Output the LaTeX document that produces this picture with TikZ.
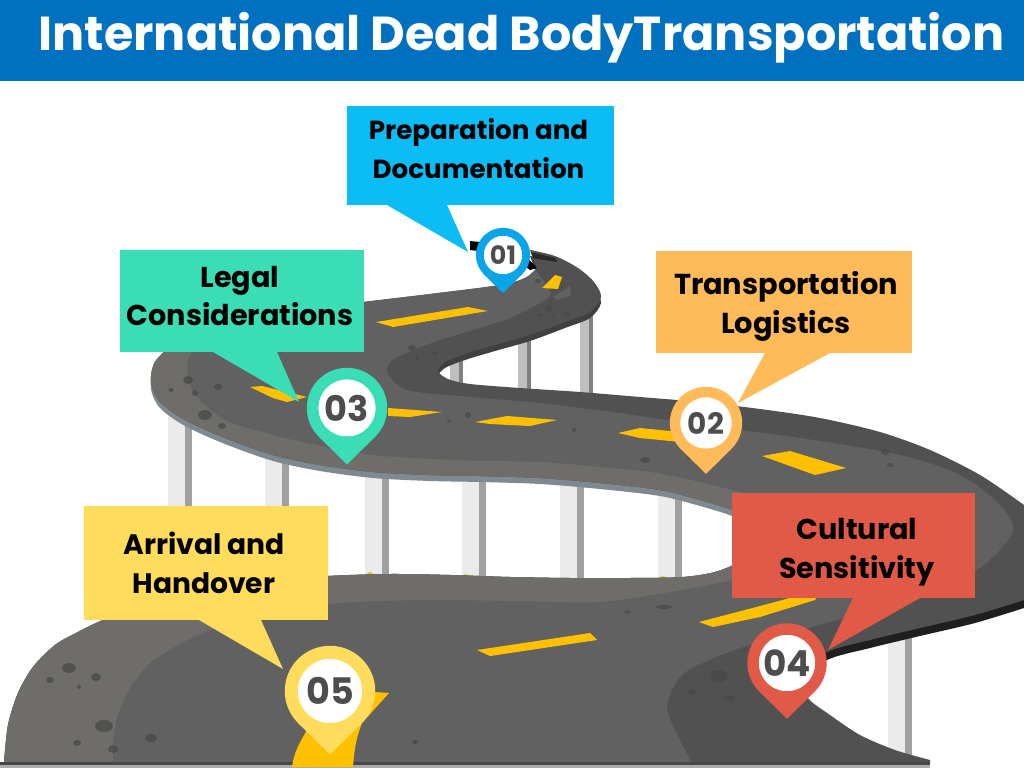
\documentclass[tikz,border=0pt]{standalone}
\usepackage{fontspec}
\setmainfont{Poppins}
\usetikzlibrary{calc, positioning}

\definecolor{bandblue}{HTML}{0070C0}
\definecolor{prepblue}{HTML}{0BBCF5}
\definecolor{pinblue}{HTML}{0AA5E8}
\definecolor{legalgreen}{HTML}{3BDDB4}
\definecolor{logisticsorange}{HTML}{FFBA5A}
\definecolor{culturalred}{HTML}{E15A48}
\definecolor{arrivalyellow}{HTML}{FFDC5C}
\definecolor{roaddash}{HTML}{FFC000}
\definecolor{roaddark}{HTML}{515151}
\definecolor{roadlane}{HTML}{616161}
\definecolor{roadouter}{HTML}{6F6D6A}
\definecolor{roadside}{HTML}{7F8A90}
\definecolor{spotgrey}{HTML}{484848}
\definecolor{digitgrey}{HTML}{4D4D4D}

\tikzset{
  roadspot/.style={fill=spotgrey, opacity=0.75},
  dashpiece/.style={fill=roaddash},
  callbox/.style={fill=#1, inner sep=0, outer sep=0},
  calltext/.style={align=center, font=\fontsize{#1}{27.7}\selectfont\bfseries, text=black},
  pinface/.style={circle, fill=white, inner sep=0, text=digitgrey}
}

% surface of the road, one closed outline
\newcommand{\roadoutline}{
  plot[smooth] coordinates {(4,763) (8,725) (18,693) (33,667) (55,645) (78,632) (103,620) (150,603) (200,590) (265,581) (328,576) (390,574) (450,575) (510,577) (570,578) (630,578) (683,577) (715,572) (740,562) (757,551) (765,537) (755,522) (732,510) (700,500) (660,490) (600,483) (540,478) (480,476) (430,475) (373,472) (320,465) (273,455) (225,438) (185,420) (160,402) (151,383) (155,362) (175,343) (205,328) (250,318) (300,310) (363,302) (430,294) (500,285) (525,278) (537,268)}
  -- plot[smooth] coordinates {(530,250) (555,256) (578,268) (594,282) (601,297) (590,312) (565,322) (530,335) (495,345) (465,354) (445,362) (438,371) (448,379) (470,384) (520,388) (580,392) (640,397) (700,402) (760,409) (820,418) (880,432) (930,450) (980,475) (1024,505)}
  -- plot[smooth] coordinates {(1024,600) (975,615) (920,628) (870,640) (827,652) (800,675) (808,698) (830,715) (860,735) (895,750) (930,760)}
  -- (930,763) -- cycle
}

\begin{document}
\begin{tikzpicture}[x=0.025cm, y=-0.025cm]
  \useasboundingbox (0,0) rectangle (1024,768);
  \fill[white] (0,0) rectangle (1024,768);

  % Pillars under the road
  \foreach \x/\ytop/\ybot in {168/400/510, 265/440/510, 365/460/576, 462/470/578, 560/470/580, 658/480/580, 888/620/757} {
    \fill[black!8] (\x,\ytop) rectangle (\x+17,\ybot);
    \fill[black!37] (\x+17,\ytop) rectangle (\x+24,\ybot);
  }
  \foreach \x/\ytop/\ybot in {450/360/385, 518/340/392, 580/310/396} {
    \fill[black!25] (\x,\ytop) rectangle (\x+13,\ybot);
    \fill[black!50] (\x+9,\ytop) rectangle (\x+13,\ybot);
  }
  \foreach \x/\y in {370/574, 466/576, 663/578} {
    \fill[yellow!85!black] (\x,\y) ellipse (3 and 2);
  }

  % Thickness of the road
  \foreach \col/\ax/\ay/\bx/\by/\dy in {
      black!75/400/250/620/380/6,
      roadside/0/380/760/560/6,
      black!88/760/560/1024/700/8} {
    \begin{scope}
      \clip (\ax,\ay) rectangle (\bx,\by);
      \fill[\col, shift={(0,\dy)}] \roadoutline;
    \end{scope}
  }
  \fill[black] (470,241) -- (490,243) -- (520,250) -- (537,268) -- (530,270) -- (510,255) -- (470,250) -- cycle;

  % Road surface
  \fill[roaddark] \roadoutline;
  \begin{scope}
    \clip \roadoutline;
    \fill[roadlane] (0,200) -- (530,200)
      -- plot[smooth] coordinates {(535,270) (550,290) (545,300) (510,318) (473,330) (440,340) (413,350) (393,360) (387,372) (407,390) (470,397) (540,403) (620,413) (700,425) (800,438) (900,455) (960,475) (1000,505) (1013,530) (993,557) (960,580) (900,600) (837,620) (790,633) (743,647) (705,662) (680,677) (667,707) (680,740) (695,768)}
      -- (0,768) -- cycle;
    \fill[roadouter] (0,290) -- (363,290)
      -- plot[smooth] coordinates {(363,302) (290,318) (235,330) (205,342) (190,355) (187,370) (195,395) (225,420) (265,433) (307,443) (373,455) (455,460) (540,462) (600,467) (650,472) (700,482) (750,495) (800,510) (815,535) (800,560) (732,580) (670,592) (600,602) (520,601) (440,600) (380,601) (330,604) (270,615) (210,630) (178,645) (150,663) (130,688) (117,717) (113,745) (113,768)}
      -- (0,768) -- cycle;
    \fill[black!50!roaddark] (530,252) -- (555,258) -- (557,262) -- (532,258) -- cycle;
  \end{scope}
  \fill[black!62] (553,297) -- (570,286) -- (571,295) -- (558,300) -- cycle;

  % Base line
  \fill[black!72] (0,762) rectangle (930,765);
  \fill[black!33] (0,765) rectangle (930,768);

  % Spots on the road
  \foreach \x/\y/\rx/\ry in {412/348/4/3, 417/358/2/2, 435/353/3/2, 549/309/3/3, 539/315/2/1.5, 553/317/2/1.5, 567/314/3/2, 538/281/3/2,
      188/380/5/4, 171/390/2.5/2, 218/387/4/3, 195/393/3/3, 205/415/7/5, 222/426/4/3, 468/415/3/3, 449/421/2/1.5,
      574/430/2/2, 645/460/5/3, 690/457/3/2, 885/452/4/3, 890/465/3/2, 69/668/7/5, 50/680/4/3, 96/677/5/4, 79/687/2/2,
      104/726/9/6, 77/743/4/3, 113/749/5/4, 151/738/6/4, 415/742/3/2, 664/607/8/2, 627/612/3/1.5, 719/676/9/6, 692/692/4/3, 729/698/5/3} {
    \fill[roadspot] (\x,\y) ellipse [x radius=\rx, y radius=\ry];
  }

  % Centre line
  \fill[dashpiece] (542,288) -- (555,275) -- (562,277) -- (558,289) -- cycle;
  \fill[dashpiece] (376,322) -- (468,307) -- (488,311) -- (393,327) -- cycle;
  \fill[dashpiece] (250,387) -- (262,386) -- (307,397) -- (287,402) -- (273,398) -- cycle;
  \fill[dashpiece] (388,408) -- (442,412) -- (410,417) -- (388,416) -- cycle;
  \fill[dashpiece] (475,422) -- (507,416) -- (557,420) -- (530,426) -- (490,424) -- cycle;
  \fill[dashpiece] (618,433) -- (640,428) -- (690,433) -- (680,442) -- (640,438) -- cycle;
  \fill[dashpiece] (762,456) -- (790,451) -- (846,468) -- (815,475) -- cycle;
  \fill[dashpiece] (477,650) -- (590,633) -- (597,640) -- (490,656) -- cycle;
  \fill[dashpiece] (699,622) -- (760,606) -- (820,590) -- (815,600) -- (760,617) -- (713,627) -- cycle;
  \fill[dashpiece] (292,767) .. controls (294,752) and (300,742) .. (307,730) -- (375,692) -- (389,693) -- (362,723) .. controls (356,738) and (354,752) .. (353,767) -- cycle;

  % Title band
  \fill[bandblue] (0,0) rectangle (1024,81);
  \node[anchor=center, text=white, inner sep=0, font=\fontsize{33.9}{36}\selectfont\bfseries] (title) at (521.5,38) {International Dead BodyTransportation};

  % Callouts
  \foreach \name/\cx/\cy/\w/\h/\tx/\ty/\fs/\col/\txt in {
      prep/480.5/155.5/267/99/478.5/149/18.6/prepblue/{Preparation and\\Documentation},
      legal/242/301/244/102/240/296/20.4/legalgreen/{Legal\\Considerations},
      logistics/784/302/256/102/786/306/20.5/logisticsorange/{Transportation\\Logistics},
      cultural/853.5/545.5/243/105/857/552/20.4/culturalred/{Cultural\\Sensitivity},
      arrival/206/563/244/114/204/563/20/arrivalyellow/{Arrival and\\Handover}} {
    \node[callbox=\col, minimum width=\w*0.025cm, minimum height=\h*0.025cm] (\name box) at (\cx,\cy) {};
    \node[calltext=\fs] (\name text) at (\tx,\ty) {\txt};
  }
  \coordinate (preptip) at (468,252);
  \coordinate (legaltip) at (299,402);
  \coordinate (logisticstip) at (738,403);
  \coordinate (culturaltip) at (828,650);
  \coordinate (arrivaltip) at (283,669);
  \foreach \name/\col/\da/\db in {prep/prepblue/40/100, legal/legalgreen/93/157, logistics/logisticsorange/109/174, cultural/culturalred/121/188, arrival/arrivalyellow/115/177} {
    \fill[\col] ($(\name box.south west)+(\da,0)$) -- (\name tip) -- ($(\name box.south west)+(\db,0)$) -- cycle;
  }

  % Pins
  \foreach \name/\x/\y/\rad/\fs/\col/\num in {
      one/503/255/27/18/pinblue/01,
      two/706/423/36/21/logisticsorange/02,
      three/347/408/40/25/legalgreen/03,
      four/787/663/39.5/25.5/culturalred/04,
      five/330/691/45/26/arrivalyellow/05} {
    \coordinate (\name tip) at (\x,\y+\rad*1.414);
    \node[pinface, draw=\col, minimum size=2*\rad*0.86*0.025cm, line width=\rad*0.29*0.025cm, font=\fontsize{\fs}{\fs}\selectfont\bfseries] (\name pin) at (\x,\y) {\num};
    \fill[\col] (\name pin.south west) -- (\name tip) -- (\name pin.south east) -- cycle;
  }
\end{tikzpicture}
\end{document}
